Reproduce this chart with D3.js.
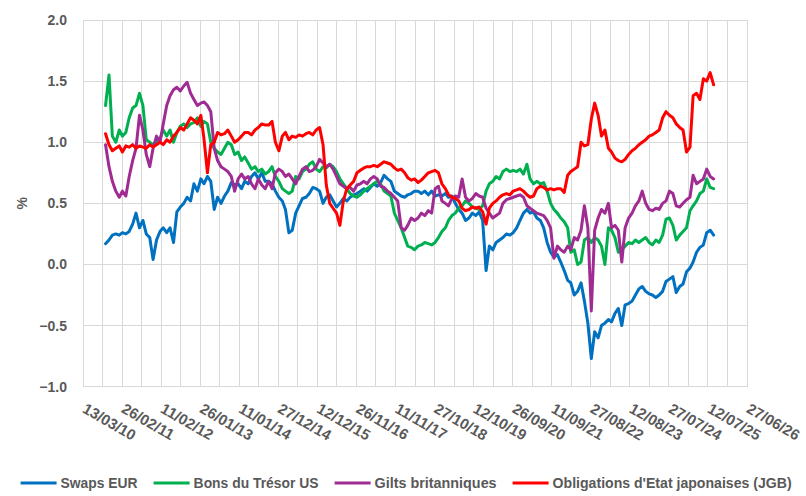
<!DOCTYPE html>
<html><head><meta charset="utf-8">
<script src="https://cdn.jsdelivr.net/npm/d3@7"></script>
<style>
html,body{margin:0;padding:0;background:#fff;}
svg{display:block;}
</style></head>
<body>
<svg id="chart" width="806" height="496"></svg>
<script>
// ---- DATA (monthly readings, Oct 2010 .. Sep 2025) ----
const startMonth = "2010-10-01";
const endMonth = "2025-10-01";
const seriesNames = ["Swaps EUR", "Bons du Trésor US", "Gilts britanniques", "Obligations d'Etat japonaises (JGB)"];
const seriesColors = ["#0070C0", "#00B050", "#A02B93", "#FF0000"];

const swapsEUR = [
0.17,0.2,0.24,0.25,0.24,0.26,0.25,0.27,0.33,0.42,0.3,0.36,0.25,0.22,0.04,0.2,0.27,0.3,0.26,0.3,0.18,0.43,0.47,0.5,0.55,0.52,0.66,0.6,0.7,0.66,0.72,0.68,0.45,0.55,0.5,0.56,0.6,0.67,0.65,0.66,0.62,0.68,0.66,0.72,0.75,0.7,0.75,0.68,
0.68,0.66,0.6,0.55,0.52,0.45,0.26,0.28,0.42,0.48,0.54,0.55,0.58,0.63,0.62,0.6,0.5,0.55,0.57,0.52,0.47,0.5,0.54,0.52,0.55,0.57,0.58,0.6,0.62,0.6,0.63,0.66,0.64,0.67,0.73,0.7,0.68,0.6,0.58,0.56,0.55,0.57,0.58,0.6,0.6,0.58,0.6,0.57,
0.6,0.56,0.57,0.56,0.58,0.55,0.56,0.5,0.45,0.42,0.36,0.38,0.42,0.4,0.43,0.36,-0.05,0.15,0.12,0.18,0.2,0.22,0.25,0.24,0.26,0.3,0.36,0.42,0.45,0.42,0.43,0.38,0.36,0.3,0.18,
0.1,0.06,0.08,0.02,-0.05,-0.13,-0.15,-0.25,-0.22,-0.15,-0.3,-0.48,-0.77,-0.55,-0.6,-0.5,-0.48,-0.45,-0.47,-0.4,-0.36,-0.5,-0.33,-0.32,-0.3,-0.25,-0.2,-0.18,-0.22,-0.24,-0.25,-0.27,-0.25,-0.22,-0.14,-0.12,-0.1,-0.23,-0.18,-0.16,-0.06,-0.03,0.02,0.1,0.14,0.16,0.26,0.28,0.24
];
const bonsUS = [
1.3,1.55,1.05,1.0,1.1,1.05,1.08,1.2,1.28,1.3,1.4,1.3,1.02,1.0,0.98,1.0,1.03,1.1,1.05,1.1,1.0,1.08,1.13,1.15,1.12,1.15,1.16,1.2,1.13,1.17,1.15,1.0,0.95,0.92,0.9,0.95,1.0,0.98,0.9,0.92,0.85,0.88,0.83,0.78,0.8,0.76,0.78,0.74,
0.76,0.8,0.72,0.68,0.62,0.6,0.58,0.6,0.72,0.7,0.76,0.78,0.82,0.84,0.78,0.76,0.8,0.79,0.82,0.8,0.76,0.7,0.66,0.62,0.58,0.56,0.55,0.57,0.6,0.62,0.64,0.66,0.68,0.66,0.6,0.58,0.56,0.42,0.36,0.3,0.22,0.15,0.14,0.12,0.15,0.16,0.18,0.17,
0.16,0.18,0.22,0.27,0.3,0.36,0.4,0.42,0.46,0.48,0.52,0.5,0.47,0.46,0.45,0.48,0.6,0.66,0.68,0.72,0.7,0.76,0.78,0.76,0.77,0.76,0.78,0.74,0.82,0.7,0.66,0.68,0.66,0.67,0.6,0.5,0.45,0.42,
0.38,0.35,0.3,0.1,0.12,0.0,0.02,0.2,0.22,0.18,0.22,0.2,0.15,0.0,0.3,0.28,0.22,0.1,0.12,0.15,0.18,0.17,0.2,0.18,0.2,0.22,0.18,0.16,0.2,0.18,0.24,0.37,0.38,0.32,0.2,0.24,0.27,0.3,0.44,0.48,0.52,0.58,0.6,0.7,0.63,0.62
];
const giltsUK = [
0.98,0.8,0.68,0.6,0.55,0.6,0.56,0.72,0.85,0.95,1.22,1.1,0.9,0.8,0.95,1.05,1.0,1.15,1.3,1.38,1.43,1.45,1.42,1.46,1.49,1.4,1.35,1.3,1.32,1.33,1.3,1.25,0.95,0.85,0.8,0.78,0.76,0.72,0.6,0.7,0.74,0.7,0.72,0.66,0.62,0.7,0.65,0.62,
0.68,0.62,0.75,0.78,0.76,0.72,0.74,0.7,0.66,0.72,0.78,0.8,0.76,0.77,0.8,0.86,0.83,0.8,0.82,0.78,0.72,0.66,0.64,0.62,0.63,0.6,0.65,0.66,0.68,0.66,0.7,0.72,0.7,0.64,0.63,0.6,0.58,0.55,0.52,0.3,0.28,0.32,0.38,0.36,0.38,0.42,0.4,0.44,
0.42,0.62,0.64,0.52,0.5,0.48,0.54,0.56,0.55,0.7,0.55,0.52,0.54,0.58,0.56,0.55,0.46,0.42,0.38,0.4,0.42,0.5,0.53,0.54,0.55,0.56,0.57,0.55,0.48,0.46,0.44,0.42,0.41,0.4,0.36,
0.3,0.05,0.15,0.12,0.1,0.15,0.12,0.22,0.2,0.28,0.48,0.3,-0.38,0.28,0.38,0.45,0.42,0.5,0.3,0.32,0.28,0.02,0.3,0.38,0.42,0.48,0.52,0.6,0.5,0.45,0.44,0.46,0.45,0.5,0.52,0.6,0.58,0.48,0.47,0.5,0.53,0.55,0.73,0.66,0.68,0.7,0.78,0.72,0.7
];
const jgbJP = [
1.07,0.98,0.93,0.95,0.97,0.92,0.97,0.96,0.98,0.95,0.97,0.96,0.95,0.98,0.96,0.98,1.0,0.98,1.02,1.0,1.05,1.08,1.12,1.1,1.15,1.2,1.18,1.15,1.22,1.03,0.75,0.98,1.0,1.08,1.06,1.07,1.1,1.05,1.0,1.02,1.05,1.08,1.08,1.06,1.1,1.12,1.15,1.14,
1.14,1.17,1.0,0.93,1.05,1.08,1.02,1.05,1.04,1.06,1.05,1.07,1.08,1.06,1.1,1.12,0.98,0.65,0.5,0.46,0.42,0.32,0.52,0.62,0.65,0.68,0.75,0.77,0.79,0.8,0.8,0.81,0.8,0.82,0.84,0.83,0.82,0.79,0.77,0.78,0.75,0.71,0.69,0.7,0.67,0.69,0.72,0.75,
0.76,0.77,0.75,0.66,0.62,0.57,0.55,0.54,0.52,0.46,0.44,0.45,0.47,0.46,0.47,0.43,0.33,0.46,0.5,0.52,0.55,0.57,0.58,0.57,0.6,0.61,0.62,0.6,0.57,0.55,0.56,0.62,0.64,0.63,0.61,
0.62,0.61,0.62,0.62,0.59,0.73,0.76,0.78,0.8,1.0,0.97,0.98,1.19,1.32,1.22,1.05,1.1,0.95,0.92,0.87,0.85,0.84,0.86,0.9,0.93,0.95,0.98,1.0,1.02,1.05,1.06,1.08,1.1,1.2,1.25,1.22,1.2,1.15,1.12,1.1,0.92,0.96,1.38,1.4,1.35,1.52,1.5,1.57,1.47
];

const yTicks = [-1.0, -0.5, 0.0, 0.5, 1.0, 1.5, 2.0];
const xTickLabels = ["13/03/10","26/02/11","11/02/12","26/01/13","11/01/14","27/12/14","12/12/15","26/11/16","11/11/17","27/10/18","12/10/19","26/09/20","11/09/21","27/08/22","12/08/23","27/07/24","12/07/25","27/06/26"];
const yTitle = "%";

// ---- BUILD ----
const parseDMY = d3.utcParse("%d/%m/%y");
const months = d3.utcMonth.range(new Date(startMonth), new Date(endMonth));
const allSeries = [swapsEUR, bonsUS, giltsUK, jgbJP];

const svg = d3.select("#chart");
const W = 806, H = 496;
const plot = {left: 83, right: 747, top: 20, bottom: 386.7};

const tickDates = xTickLabels.map(parseDMY);
const x = d3.scaleUtc().domain([tickDates[0], tickDates[tickDates.length - 1]]).range([plot.left, plot.right]);
const y = d3.scaleLinear().domain([-1, 2]).range([plot.bottom, plot.top]);

svg.append("rect").attr("width", W).attr("height", H).attr("fill", "#fff");

// vertical gridlines: one at every tick and one halfway between
const gridDates = [];
for (let i = 0; i < tickDates.length; i++) {
  gridDates.push(tickDates[i]);
  if (i < tickDates.length - 1) gridDates.push(new Date((+tickDates[i] + +tickDates[i + 1]) / 2));
}
const grid = svg.append("g").attr("stroke", "#d9d9d9").attr("stroke-width", 1).attr("shape-rendering", "crispEdges");
grid.selectAll("line.v").data(gridDates).join("line").attr("class", "v")
  .attr("x1", d => x(d)).attr("x2", d => x(d)).attr("y1", plot.top).attr("y2", plot.bottom);
grid.selectAll("line.h").data(yTicks).join("line").attr("class", "h")
  .attr("x1", plot.left).attr("x2", plot.right).attr("y1", d => y(d)).attr("y2", d => y(d));

// y axis labels
const tickFont = "'Liberation Sans', Arial, sans-serif";
const yAxis = d3.axisLeft(y).tickValues(yTicks).tickFormat(d3.format(".1f")).tickSize(0).tickPadding(16);
const gy = svg.append("g").attr("transform", `translate(${plot.left},0)`).call(yAxis);
gy.select(".domain").remove();
gy.selectAll("text").attr("font-family", tickFont).attr("font-size", 14).attr("font-weight", "bold").attr("fill", "#595959");

// y title
svg.append("text").attr("transform", `translate(27,${(plot.top + plot.bottom) / 2}) rotate(-90)`)
  .attr("text-anchor", "middle").attr("font-family", tickFont).attr("font-size", 14).attr("font-weight", "bold")
  .attr("fill", "#595959").text(yTitle);

// x labels (rotated)
const xAxis = d3.axisBottom(x).tickValues(tickDates).tickFormat((d, i) => xTickLabels[i]).tickSize(0);
const gx = svg.append("g").attr("transform", `translate(0,${plot.bottom})`).call(xAxis);
gx.select(".domain").remove();
gx.selectAll(".tick text")
  .attr("font-family", tickFont).attr("font-size", 15).attr("font-weight", "bold").attr("fill", "#595959")
  .attr("text-anchor", "start").attr("dy", null).attr("y", 0).attr("x", 0)
  .attr("transform", "translate(-2,25) rotate(30)");

// lines
const line = d3.line().x((d, i) => x(months[i])).y(d => y(d)).curve(d3.curveLinear);
svg.append("g").selectAll("path").data(allSeries).join("path")
  .attr("d", d => line(d)).attr("fill", "none")
  .attr("stroke", (d, i) => seriesColors[i]).attr("stroke-width", 3)
  .attr("stroke-linejoin", "round").attr("stroke-linecap", "round");

// legend (condensed text, widths fitted to the reference layout)
const legTextWidths = [77, 125, 122, 239];
const leg = svg.append("g");
const items = leg.selectAll("g").data(seriesNames).join("g");
items.append("line").attr("x1", 0).attr("x2", 36).attr("y1", 0).attr("y2", 0)
  .attr("stroke", (d, i) => seriesColors[i]).attr("stroke-width", 3);
items.append("text").attr("x", 40).attr("y", 0).attr("dy", "0.36em")
  .attr("font-family", tickFont).attr("font-size", 15).attr("font-weight", "bold").attr("fill", "#595959")
  .attr("textLength", (d, i) => legTextWidths[i]).attr("lengthAdjust", "spacingAndGlyphs")
  .text(d => d);
let cx = 20.6; const pos = [];
legTextWidths.forEach(w => { pos.push(cx); cx += 40 + w + 16; });
items.attr("transform", (d, i) => `translate(${pos[i]},483)`);
</script>
</body></html>
